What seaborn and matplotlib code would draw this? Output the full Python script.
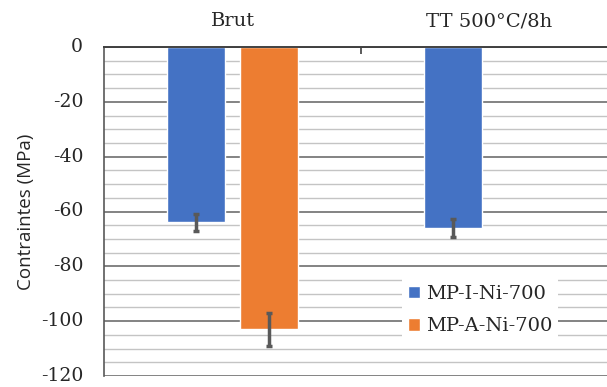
import matplotlib
matplotlib.use("Agg")
import matplotlib.pyplot as plt
import numpy as np
import pandas as pd
import seaborn as sns
from matplotlib.ticker import MultipleLocator

categories = ["Brut", "TT 500°C/8h"]
series = ["MP-I-Ni-700", "MP-A-Ni-700"]
mp_i_values = [-64, -66]
mp_a_values = [-103, np.nan]
mp_i_errors = [3.2, 3.2]
mp_a_errors = [6.0, np.nan]
colors = ["#4472C4", "#ED7D31"]

df = pd.DataFrame({
    "etat": categories * 2,
    "serie": [series[0]] * 2 + [series[1]] * 2,
    "contrainte": mp_i_values + mp_a_values,
    "erreur": mp_i_errors + mp_a_errors,
}).dropna()

sns.set_style("white")
plt.rcParams["font.family"] = ["DejaVu Serif"]
plt.rcParams["axes.unicode_minus"] = False

fig = plt.figure(figsize=(6.07, 3.87), dpi=100)
ax = fig.add_axes([104 / 607, 1 - 376 / 387, 514 / 607, 329 / 387])

sns.barplot(
    data=df, x="etat", y="contrainte", hue="serie",
    order=categories, hue_order=series, palette=colors,
    width=0.568, gap=0.205, errorbar=None, saturation=1, ax=ax,
)

# error bars from the drawn bars
for container, name in zip(ax.containers, series):
    sub = df[df["serie"] == name]
    for bar, err in zip(container, sub["erreur"]):
        xc = bar.get_x() + bar.get_width() / 2
        ax.errorbar(xc, bar.get_y() + bar.get_height(), yerr=err, color="#595959",
                    elinewidth=2.5, capsize=2, capthick=2.5, zorder=5)

ax.set_xlim(-0.5, 1.5)
ax.set_ylim(-120, 0)
ax.yaxis.set_major_locator(MultipleLocator(20))
ax.yaxis.set_minor_locator(MultipleLocator(5))
ax.grid(which="major", axis="y", color="#6e6e6e", linewidth=1.2)
ax.grid(which="minor", axis="y", color="#c4c4c4", linewidth=1.0)
ax.set_axisbelow(True)

ax.xaxis.tick_top()
ax.tick_params(axis="x", which="major", length=0, pad=12, labelsize=14)
ax.set_xticks([0.5], minor=True)
ax.tick_params(axis="x", which="minor", direction="in", length=5, width=1.2, color="#404040")
ax.tick_params(axis="y", which="both", length=0, pad=15, labelsize=13.5)
for lbl in ax.get_yticklabels():
    lbl.set_verticalalignment("center")
ax.set_xlabel("")
ax.set_ylabel("Contraintes (MPa)", family="Open Sans", fontsize=13.5, labelpad=4)

for side in ["right", "bottom"]:
    ax.spines[side].set_visible(False)
ax.spines["left"].set_color("#595959")
ax.spines["top"].set_color("#404040")
ax.spines["left"].set_linewidth(1.2)
ax.spines["top"].set_linewidth(1.4)

handles, labels = ax.get_legend_handles_labels()
leg = ax.legend(handles, labels, loc="center", bbox_to_anchor=(480 / 607, 1 - 310 / 387),
                bbox_transform=fig.transFigure, frameon=True, fancybox=False,
                edgecolor="none", facecolor="white", framealpha=1, fontsize=14,
                handlelength=0.6, handleheight=0.6, handletextpad=0.3, labelspacing=0.75,
                borderpad=0.3, borderaxespad=0)

fig.savefig("out.png", dpi=100)
